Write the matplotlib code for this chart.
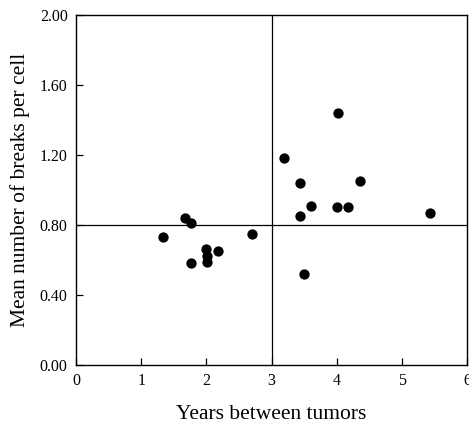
import matplotlib
matplotlib.use("Agg")
from matplotlib import pyplot as plt

years = [1.34, 1.68, 1.77, 1.76, 1.99, 2.01, 2.01, 2.18, 2.70,
         3.19, 3.43, 3.43, 3.60, 3.50, 4.02, 4.01, 4.18, 4.35, 5.43]
breaks = [0.73, 0.84, 0.81, 0.58, 0.66, 0.62, 0.59, 0.65, 0.75,
          1.18, 1.04, 0.85, 0.91, 0.52, 1.44, 0.90, 0.90, 1.05, 0.87]

x_ticks = [0, 1, 2, 3, 4, 5, 6]
y_ticks = [0.00, 0.40, 0.80, 1.20, 1.60, 2.00]
x_cut = 3
y_cut = 0.80

plt.rcParams["font.family"] = ["Liberation Serif", "DejaVu Serif"]

fig = plt.figure(figsize=(4.69, 4.23), dpi=100)
ax = fig.add_axes([0.162, 0.137, 0.834, 0.828])

ax.scatter(years, breaks, s=55, color="black", zorder=3, linewidths=0)
ax.axvline(x_cut, color="black", lw=0.9)
ax.axhline(y_cut, color="black", lw=0.9)

ax.set_xlim(0, 6)
ax.set_ylim(0, 2.0)
ax.set_xticks(x_ticks)
ax.set_yticks(y_ticks)
ax.set_yticklabels([f"{v:.2f}" for v in y_ticks])
ax.tick_params(direction="in", length=5, width=0.9, labelsize=11.5, colors="black")
ax.tick_params(axis="x", pad=6)
ax.tick_params(axis="y", pad=6)

for sp in ax.spines.values():
    sp.set_linewidth(1.0)

ax.set_xlabel("Years between tumors", fontsize=15.5, labelpad=11)
ax.set_ylabel("Mean number of breaks per cell", fontsize=15.5, labelpad=7)

fig.savefig("out.png", dpi=100)
